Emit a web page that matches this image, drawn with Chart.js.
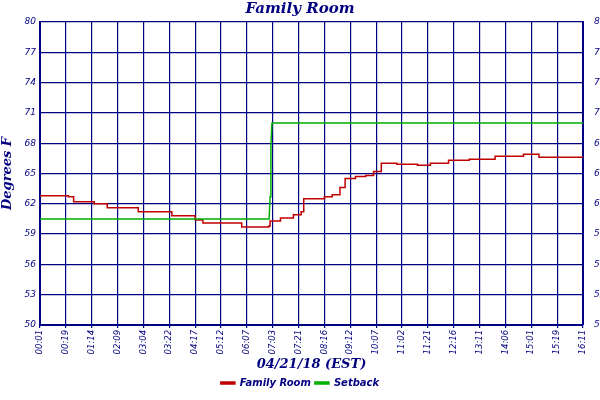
<!DOCTYPE html>
<html><head><meta charset="utf-8">
<script src="https://cdn.jsdelivr.net/npm/chart.js@4/dist/chart.umd.min.js"></script>
<style>body{margin:0;background:#fff}#wrap{width:600px;height:400px}</style>
</head><body><div id="wrap"><canvas id="c"></canvas></div>
<script>
const timeLabels = ['00:01','00:19','01:14','02:09','03:04','03:22','04:17','05:12','06:07','07:03','07:21','08:16','09:12','10:07','11:02','11:21','12:16','13:11','14:06','15:01','15:19','16:11'];
// x in label-interval units, y in degrees F
const roomX = [0,1.1,1.3,2.1,2.6,3.8,5.1,6.0,6.3,7.8,8.85,8.9,9.3,9.8,10.1,10.2,11.0,11.3,11.6,11.8,12.2,12.6,12.9,13.2,13.8,14.6,15.1,15.8,16.6,17.6,18.7,19.3,20.0,21.0];
const roomY = [62.8,62.7,62.2,62.0,61.6,61.2,60.8,60.4,60.1,59.7,59.8,60.3,60.6,60.9,61.2,62.5,62.7,62.9,63.6,64.5,64.7,64.8,65.2,66.0,65.9,65.8,66.0,66.3,66.4,66.7,66.9,66.6,66.6,66.7];
const setbackX = [0,8.86,8.9,8.93,8.97,21];
const setbackY = [60.5,60.5,62.7,67.8,70,70];
const yTicks = [50,53,56,59,62,65,68,71,74,77,80];

const navy = '#000080';
const pts = (xs, ys) => xs.map((x, i) => ({x, y: ys[i]}));
const fixW = w => ({afterFit: s => { s.width = w; }});

new Chart(document.getElementById('c'), {
  type: 'line',
  data: {
    datasets: [
      {label: 'Setback', data: pts(setbackX, setbackY), borderColor: '#00b000', backgroundColor: '#00b000', borderWidth: 1.5, pointRadius: 0},
      {label: 'Family Room', data: pts(roomX, roomY), borderColor: '#c00000', backgroundColor: '#c00000', borderWidth: 1.5, pointRadius: 0, stepped: true}
    ]
  },
  options: {
    responsive: true, maintainAspectRatio: false, animation: false,
    layout: {padding: {top: 0, right: 0, left: 0, bottom: 2}},
    plugins: {
      title: {display: true, text: 'Family Room', color: navy, padding: {top: 0, bottom: 4},
        font: {family: 'DejaVu Serif', size: 15, style: 'italic', weight: 'bold'}},
      legend: {position: 'bottom', reverse: true, labels: {color: navy, boxWidth: 14, boxHeight: 2, padding: 4,
        font: {family: 'DejaVu Sans', size: 10, style: 'italic', weight: 'bold'}}},
      tooltip: {enabled: false}
    },
    scales: {
      x: {type: 'linear', min: 0, max: 21,
        grid: {color: navy, lineWidth: 1.2, tickLength: 3}, border: {color: navy, width: 2},
        ticks: {stepSize: 1, color: navy, maxRotation: 90, minRotation: 90, autoSkip: false, padding: 2,
          font: {family: 'DejaVu Sans', size: 8.5, style: 'italic'},
          callback: v => timeLabels[v]},
        title: {display: true, text: '04/21/18 (EST)', color: navy, padding: {top: 0, bottom: 2},
          font: {family: 'DejaVu Serif', size: 13, style: 'italic', weight: 'bold'}}
      },
      y: {min: 50, max: 80, position: 'left', ...fixW(40),
        grid: {color: navy, lineWidth: 1.2, tickLength: 0}, border: {color: navy, width: 2},
        afterBuildTicks: s => { s.ticks = yTicks.map(v => ({value: v})); },
        ticks: {color: navy, padding: 4, font: {family: 'DejaVu Sans', size: 9, style: 'italic'}},
        title: {display: true, text: 'Degrees F', color: navy, padding: 0,
          font: {family: 'DejaVu Serif', size: 13, style: 'italic', weight: 'bold'}}
      },
      y2: {min: 50, max: 80, position: 'right', ...fixW(17),
        grid: {display: false}, border: {color: navy, width: 2},
        afterBuildTicks: s => { s.ticks = yTicks.map(v => ({value: v})); },
        ticks: {color: navy, padding: 3, font: {family: 'DejaVu Sans', size: 9, style: 'italic'}}
      }
    }
  }
});
</script></body></html>
